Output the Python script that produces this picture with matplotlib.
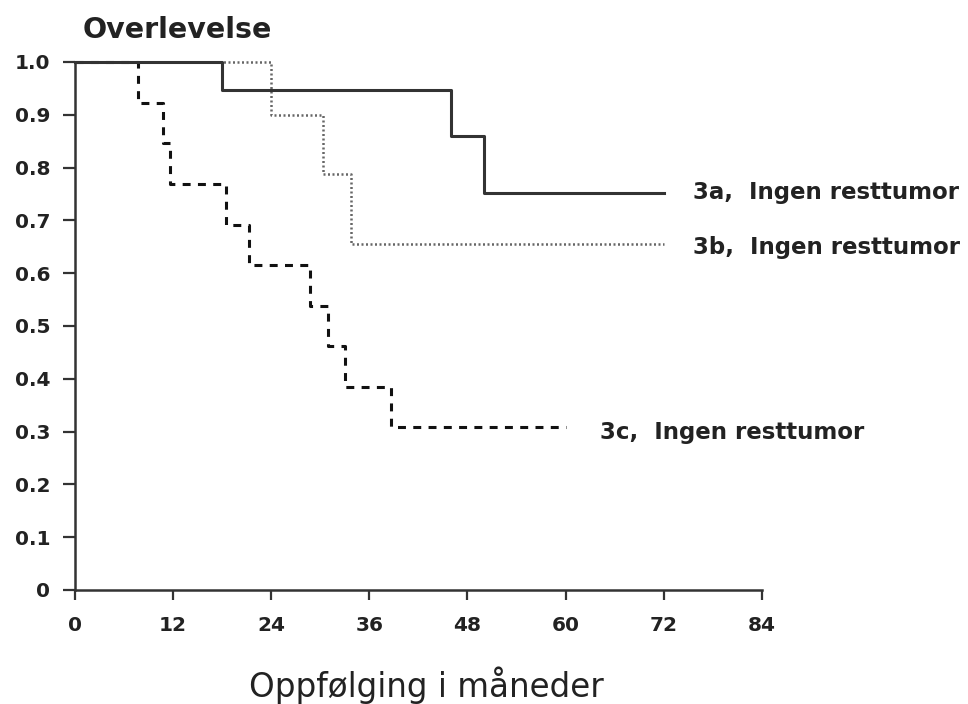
import matplotlib.pyplot as plt
import numpy as np

plt.rcParams['font.family'] = ['DejaVu Sans']

# Kaplan-Meier step data (months, survival fraction)
a_t = [0, 18, 46, 50, 72]
a_s = [1.0, 0.946, 0.86, 0.752, 0.752]

b_t = [0, 24, 30.3, 33.7, 72]
b_s = [1.0, 0.9, 0.787, 0.656, 0.656]

c_t = [0, 7.7, 10.8, 11.6, 18.5, 21.3, 28.8, 30.9, 33, 38.6, 60]
c_s = [1.0, 0.923, 0.846, 0.769, 0.692, 0.615, 0.538, 0.462, 0.385, 0.308, 0.308]

labels = ['3a,  Ingen resttumor', '3b,  Ingen resttumor', '3c,  Ingen resttumor']
label_pos = [(75.6, 0.752), (75.6, 0.648), (64.2, 0.298)]

x_ticks = np.arange(0, 85, 12)
y_ticks = np.arange(0, 1.01, 0.1)
y_ticklabels = ['0'] + [f'{v:.1f}' for v in y_ticks[1:]]

fig = plt.figure(figsize=(9.68, 7.04), dpi=100)
ax = fig.add_axes([0.0775, 0.162, 0.7095, 0.75])

ax.step(a_t, a_s, where='post', color='#333333', lw=2.2, clip_on=False, zorder=4)
ax.step(b_t, b_s, where='post', color='#666666', lw=1.8,
        linestyle=(0, (0.8, 1.0)), clip_on=False, zorder=3)
ax.step(c_t, c_s, where='post', color='#111111', lw=2.2,
        linestyle=(0, (2.6, 2.4)), clip_on=False, zorder=3)

for txt, (x, y) in zip(labels, label_pos):
    ax.text(x, y, txt, fontsize=16.5, fontweight='bold', color='#222222',
            va='center', ha='left', clip_on=False)

ax.set_xlim(0, 84)
ax.set_ylim(0, 1.0)
ax.set_xticks(x_ticks)
ax.set_yticks(y_ticks)
ax.set_yticklabels(y_ticklabels)

for s in ['top', 'right']:
    ax.spines[s].set_visible(False)
for s in ['left', 'bottom']:
    ax.spines[s].set_linewidth(1.8)
    ax.spines[s].set_color('#333333')

ax.tick_params(axis='y', direction='out', length=9, width=1.6, color='#333333',
               labelsize=14.5, labelcolor='#222222', pad=9)
ax.tick_params(axis='x', direction='out', length=7, width=1.6, color='#333333',
               labelsize=14.5, labelcolor='#222222', pad=12)
for lbl in ax.get_xticklabels() + ax.get_yticklabels():
    lbl.set_fontweight('bold')

fig.text(0.085, 0.958, 'Overlevelse', fontsize=20.5, fontweight='bold',
         color='#222222', ha='left', va='center')
fig.text(0.44, 0.027, 'Oppfølging i måneder', fontsize=23.5,
         color='#222222', ha='center', va='center')

fig.savefig('out.png', dpi=100, facecolor='white')
